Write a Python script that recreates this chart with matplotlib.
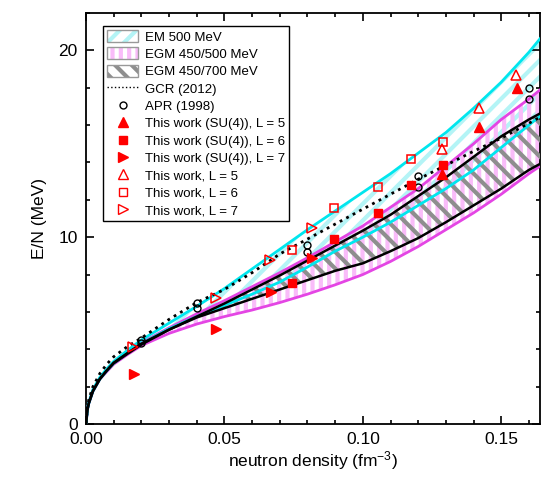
import matplotlib
matplotlib.use("Agg")
import matplotlib.pyplot as plt
from matplotlib.patches import Patch
from matplotlib.lines import Line2D
from matplotlib.ticker import MultipleLocator, FormatStrFormatter

plt.rcParams['font.family'] = ['Liberation Sans', 'DejaVu Sans']
plt.rcParams['mathtext.default'] = 'regular'
plt.rcParams['hatch.linewidth'] = 3.0

# density grid for the bands and the GCR curve (fm^-3)
dens = [0.0, 0.0005, 0.001, 0.0025, 0.005, 0.0075, 0.01, 0.015, 0.02, 0.03, 0.04,
        0.05, 0.06, 0.07, 0.08, 0.09, 0.10, 0.11, 0.12, 0.13, 0.14, 0.15, 0.16, 0.165]

# EM 500 MeV band
em500_hi = [0.0, 0.8, 1.15, 1.85, 2.5, 2.95, 3.35, 3.95, 4.5, 5.4, 6.3,
            7.25, 8.3, 9.35, 10.4, 11.4, 12.4, 13.4, 14.5, 15.6, 16.9, 18.3, 19.9, 20.8]
em500_lo = [0.0, 0.75, 1.1, 1.75, 2.4, 2.85, 3.25, 3.8, 4.3, 5.1, 5.75,
            6.35, 6.95, 7.6, 8.4, 9.25, 10.0, 10.8, 11.7, 12.6, 13.6, 14.8, 16.0, 16.6]

# EGM 450/500 MeV band
egm500_hi = [0.0, 0.78, 1.12, 1.8, 2.45, 2.9, 3.3, 3.85, 4.35, 5.15, 5.9,
             6.6, 7.35, 8.1, 8.9, 9.75, 10.6, 11.6, 12.6, 13.8, 15.0, 16.3, 17.4, 18.0]
egm500_lo = [0.0, 0.75, 1.1, 1.75, 2.4, 2.8, 3.2, 3.72, 4.2, 4.85, 5.35,
             5.75, 6.1, 6.5, 6.95, 7.45, 8.0, 8.7, 9.5, 10.4, 11.3, 12.3, 13.4, 13.9]

# EGM 450/700 MeV band
egm700_hi = [0.0, 0.76, 1.11, 1.78, 2.42, 2.87, 3.28, 3.8, 4.3, 5.05, 5.75,
             6.45, 7.2, 7.95, 8.75, 9.55, 10.35, 11.2, 12.2, 13.2, 14.3, 15.4, 16.3, 16.7]
egm700_lo = [0.0, 0.75, 1.1, 1.75, 2.4, 2.85, 3.25, 3.76, 4.25, 5.05, 5.7,
             6.2, 6.7, 7.2, 7.7, 8.2, 8.6, 9.25, 9.95, 10.8, 11.7, 12.6, 13.6, 14.0]

# GCR (2012)
gcr = [0.0, 0.9, 1.3, 2.0, 2.7, 3.2, 3.6, 4.15, 4.6, 5.6, 6.5,
       7.2, 8.1, 9.1, 9.9, 10.7, 11.5, 12.3, 13.1, 13.85, 14.6, 15.3, 16.1, 16.5]

# APR (1998)
apr_n = [0.02, 0.04, 0.08, 0.12, 0.16]
apr_a = [4.5, 6.47, 9.6, 13.3, 17.97]
apr_b = [4.33, 6.2, 9.2, 12.7, 17.4]

# this work, SU(4)
su4_l5_n = [0.1285, 0.1419, 0.1556]
su4_l5_e = [13.4, 15.9, 18.0]
su4_l6_n = [0.0744, 0.0895, 0.1054, 0.1173, 0.1289]
su4_l6_e = [7.55, 9.9, 11.3, 12.8, 13.85]
su4_l7_n = [0.0173, 0.0469, 0.0668, 0.0816]
su4_l7_e = [2.7, 5.1, 7.07, 8.9]

# this work, full
l5_n = [0.1285, 0.1419, 0.1552]
l5_e = [14.7, 16.9, 18.7]
l6_n = [0.0744, 0.0895, 0.1054, 0.1173, 0.1289]
l6_e = [9.3, 11.55, 12.7, 14.2, 15.1]
l7_n = [0.017, 0.0469, 0.0664, 0.0816]
l7_e = [4.1, 6.74, 8.77, 10.5]

CYAN = '#00e6ee'
CYAN_H = '#b4f4f6'
MAG = '#e445e4'
PINK_H = '#f9bcf9'
GRAY_H = '#8e8e8e'
RED = '#ff0000'

fig = plt.figure(figsize=(5.41, 4.78), dpi=100)
ax = fig.add_axes([86 / 541, 54 / 478, 454 / 541, 411 / 478])

# hatched bands
ax.fill_between(dens, em500_lo, em500_hi, facecolor='none', edgecolor=CYAN_H,
                hatch='//', linewidth=0, zorder=1)
ax.fill_between(dens, egm500_lo, egm500_hi, facecolor='none', edgecolor=PINK_H,
                hatch='||', linewidth=0, zorder=2)
ax.fill_between(dens, egm700_lo, egm700_hi, facecolor='none', edgecolor=GRAY_H,
                hatch='\\\\', linewidth=0, zorder=3)

# band borders
ax.plot(dens, egm500_hi, color=MAG, lw=2, zorder=4)
ax.plot(dens, egm500_lo, color=MAG, lw=2, zorder=4)
ax.plot(dens, em500_hi, color=CYAN, lw=2, zorder=4)
ax.plot(dens, em500_lo, color=CYAN, lw=2, zorder=4)
ax.plot(dens, egm700_hi, color='black', lw=1.8, zorder=5)
ax.plot(dens, egm700_lo, color='black', lw=1.8, zorder=5)
ax.plot(dens, gcr, color='black', lw=2, ls=':', zorder=6)

# points
ax.plot(apr_n, apr_a, 'o', mfc='none', mec='black', ms=5, mew=1, zorder=7)
ax.plot(apr_n, apr_b, 'o', mfc='none', mec='black', ms=5, mew=1, zorder=7)
ax.plot(su4_l5_n, su4_l5_e, '^', color=RED, ms=7, zorder=8)
ax.plot(su4_l6_n, su4_l6_e, 's', color=RED, ms=6, zorder=8)
ax.plot(su4_l7_n, su4_l7_e, '>', color=RED, ms=7, zorder=8)
ax.plot(l5_n, l5_e, '^', mfc='none', mec=RED, ms=7, mew=1.1, zorder=8)
ax.plot(l6_n, l6_e, 's', mfc='none', mec=RED, ms=6, mew=1.1, zorder=8)
ax.plot(l7_n, l7_e, '>', mfc='none', mec=RED, ms=7, mew=1.1, zorder=8)

ax.set_xlim(0, 0.164)
ax.set_ylim(0, 22)
ax.xaxis.set_major_locator(MultipleLocator(0.05))
ax.xaxis.set_minor_locator(MultipleLocator(0.01))
ax.yaxis.set_major_locator(MultipleLocator(10))
ax.yaxis.set_minor_locator(MultipleLocator(2))
ax.xaxis.set_major_formatter(FormatStrFormatter('%.2f'))
ax.tick_params(which='both', direction='in', top=True, right=True, labelsize=12.5, width=1.2)
ax.tick_params(which='major', length=6, pad=6)
ax.tick_params(which='minor', length=3)
for s in ax.spines.values():
    s.set_linewidth(1.3)

ax.set_xlabel('neutron density (fm$^{-3}$)', fontsize=12.5, labelpad=1)
ax.set_ylabel('E/N (MeV)', fontsize=12.5, labelpad=8)

border = Patch(facecolor='none', edgecolor='#999999', lw=1)
handles = [
    (Patch(facecolor='white', edgecolor=CYAN_H, hatch='//', lw=0), border),
    (Patch(facecolor='white', edgecolor=PINK_H, hatch='||', lw=0), border),
    (Patch(facecolor='white', edgecolor=GRAY_H, hatch='\\\\', lw=0), border),
    Line2D([], [], color='black', ls=':', lw=1),
    Line2D([], [], ls='none', marker='o', mfc='none', mec='black', ms=5),
    Line2D([], [], ls='none', marker='^', color=RED, ms=7),
    Line2D([], [], ls='none', marker='s', color=RED, ms=6),
    Line2D([], [], ls='none', marker='>', color=RED, ms=7),
    Line2D([], [], ls='none', marker='^', mfc='none', mec=RED, ms=7),
    Line2D([], [], ls='none', marker='s', mfc='none', mec=RED, ms=6),
    Line2D([], [], ls='none', marker='>', mfc='none', mec=RED, ms=7),
]
labels = ['EM 500 MeV', 'EGM 450/500 MeV', 'EGM 450/700 MeV', 'GCR (2012)',
          'APR (1998)', 'This work (SU(4)), L = 5', 'This work (SU(4)), L = 6',
          'This work (SU(4)), L = 7', 'This work, L = 5', 'This work, L = 6',
          'This work, L = 7']
leg = ax.legend(handles, labels, loc='upper left', bbox_to_anchor=(0.037, 0.968),
                borderaxespad=0, fontsize=9.5, frameon=True, fancybox=False,
                edgecolor='black', framealpha=1, handlelength=2.4, handleheight=1.0,
                handletextpad=0.5, labelspacing=0.3, borderpad=0.3)
leg.get_frame().set_linewidth(1.0)
leg.set_zorder(10)

fig.savefig('out.png', dpi=100)
